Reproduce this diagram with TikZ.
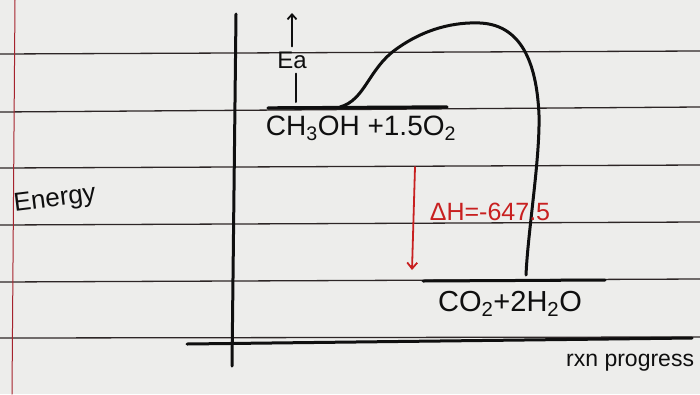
\documentclass[tikz,border=0pt]{standalone}
\usepackage{fontspec}
\setmainfont{Liberation Sans}
\usetikzlibrary{arrows.meta}
\definecolor{paper}{RGB}{237,237,235}
\definecolor{ruleink}{RGB}{45,38,38}
\definecolor{margin}{RGB}{165,35,45}
\definecolor{blackink}{RGB}{15,15,15}
\definecolor{redink}{RGB}{200,32,32}

\begin{document}
\begin{tikzpicture}[x=1pt,y=-1pt,line cap=round,line join=round,
    rule/.style={line width=1.3pt,ruleink},
    ink/.style={line width=3pt,blackink},
    label/.style={inner sep=0pt,blackink}]
  \useasboundingbox (0,0) rectangle (700,394);
  \fill[paper] (0,0) rectangle (700,394);
  % ruled paper
  \foreach \yl/\yr in {54/51,112/107,168/165,225/222,282/279,338/337}
    \draw[rule] (0,\yl) -- (700,\yr);
  \draw[line width=1pt,margin] (15,0) -- (12,394);
  % axes
  \draw[ink] (236,14) -- (232,366);
  \draw[ink] (187,344) -- (692,338);
  % energy levels
  \draw[ink,line width=3.4pt] (268,108) -- (447,107);
  \draw[ink] (423,281) -- (605,280);
  % reaction path
  \draw[ink] (340,107) .. controls (365,100) and (368,70) .. (395,50)
    .. controls (425,28) and (455,22) .. (480,23)
    .. controls (525,25) and (537,70) .. (539,115)
    .. controls (540,160) and (528,230) .. (526,275);
  % labels
  \node[label,font=\fontsize{28}{28}\selectfont] (react) at (361,128)
    {CH\textsubscript{3}OH +1.5O\textsubscript{2}};
  \node[label,font=\fontsize{29}{29}\selectfont] (prod) at (510,304)
    {CO\textsubscript{2}+2H\textsubscript{2}O};
  \node[label,font=\fontsize{24}{24}\selectfont] (ea) at (292,60) {Ea};
  \node[label,font=\fontsize{26}{26}\selectfont,rotate=7] (energy) at (55,200) {Energy};
  \node[label,font=\fontsize{23}{23}\selectfont,anchor=west] (progress) at (566,363) {rxn progress};
  \node[inner sep=0pt,redink,font=\fontsize{25}{25}\selectfont] (dh) at (490,212) {ΔH=-647.5};
  % activation energy
  \coordinate (eatop) at (292,13);
  \coordinate (eabot) at (296,102);
  \draw[line width=1.8pt,blackink,-{Straight Barb[length=5pt,width=9pt]}] (ea.north) ++(0,-5) -- (eatop);
  \draw[line width=2pt,blackink] (ea.south) ++(4,5) -- (eabot);
  % enthalpy change
  \coordinate (dhtop) at (415,167);
  \coordinate (dhbot) at (412,270);
  \draw[line width=1.8pt,redink,-{Straight Barb[length=6pt,width=10pt]}] (dhtop) -- (dhbot);
\end{tikzpicture}
\end{document}
